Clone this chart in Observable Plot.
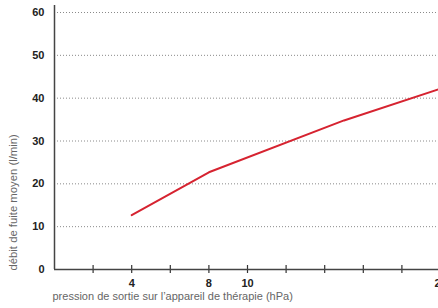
<!DOCTYPE html>
<html>
<head>
<meta charset="utf-8">
<script src="https://cdn.jsdelivr.net/npm/d3@7"></script>
<script src="https://cdn.jsdelivr.net/npm/@observablehq/plot@0.6"></script>
<style>
  html, body { margin: 0; padding: 0; background: #fff; overflow: hidden; }
  #chart svg { display: block; max-width: none; }
</style>
</head>
<body>
<div id="chart"></div>
<script>
const pressure = [4, 8, 15, 20];
const leakFlow = [12.7, 22.7, 34.8, 42.2];
const xTicks = [2, 4, 6, 8, 10, 12, 14, 16, 18, 20];
const xTickLabels = [4, 8, 10, 20];
const yTicks = [0, 10, 20, 30, 40, 50, 60];
const yGrid = [10, 20, 30, 40, 50, 60];
const xTitle = "pression de sortie sur l’appareil de thérapie (hPa)";
const yTitle = "débit de fuite moyen (l/min)";

const data = pressure.map((p, i) => ({p, v: leakFlow[i]}));

const chart = Plot.plot({
  width: 438,
  height: 308,
  marginLeft: 54,
  marginRight: 0,
  marginTop: 5,
  marginBottom: 39,
  style: {fontFamily: "'Liberation Sans', Arial, sans-serif", background: "#fff", overflow: "hidden"},
  x: {domain: [0, 20], range: [54, 440]},
  y: {domain: [0, 60], range: [269, 12]},
  marks: [
    Plot.gridY(yGrid, {stroke: "#8a8a8a", strokeOpacity: 1, strokeDasharray: "1 2", strokeWidth: 1}),
    Plot.axisX(xTicks, {tickSize: 8, dy: -4, tickFormat: () => "", stroke: "#333", strokeWidth: 1.2, label: null}),
    Plot.axisX(xTickLabels, {tickSize: 0, tickPadding: 10, fontSize: 11, fontWeight: "bold", fill: "#222", label: null}),
    Plot.axisY(yTicks, {tickSize: 0, tickPadding: 10, fontSize: 11, fontWeight: "bold", fill: "#222", label: null}),
    Plot.ruleY([0], {stroke: "#444", strokeWidth: 1.5}),
    Plot.ruleX([0], {stroke: "#444", strokeWidth: 1.5}),
    Plot.line(data, {x: "p", y: "v", stroke: "#d62330", strokeWidth: 2}),
    Plot.text([yTitle], {frameAnchor: "bottom-left", dx: -38, dy: 1, rotate: -90, textAnchor: "start", fontSize: 11.3, fill: "#666"}),
    Plot.text([xTitle], {frameAnchor: "bottom-left", dx: -2, dy: 30, textAnchor: "start", fontSize: 11, fill: "#666"})
  ]
});
document.getElementById("chart").appendChild(chart);
</script>
</body>
</html>
